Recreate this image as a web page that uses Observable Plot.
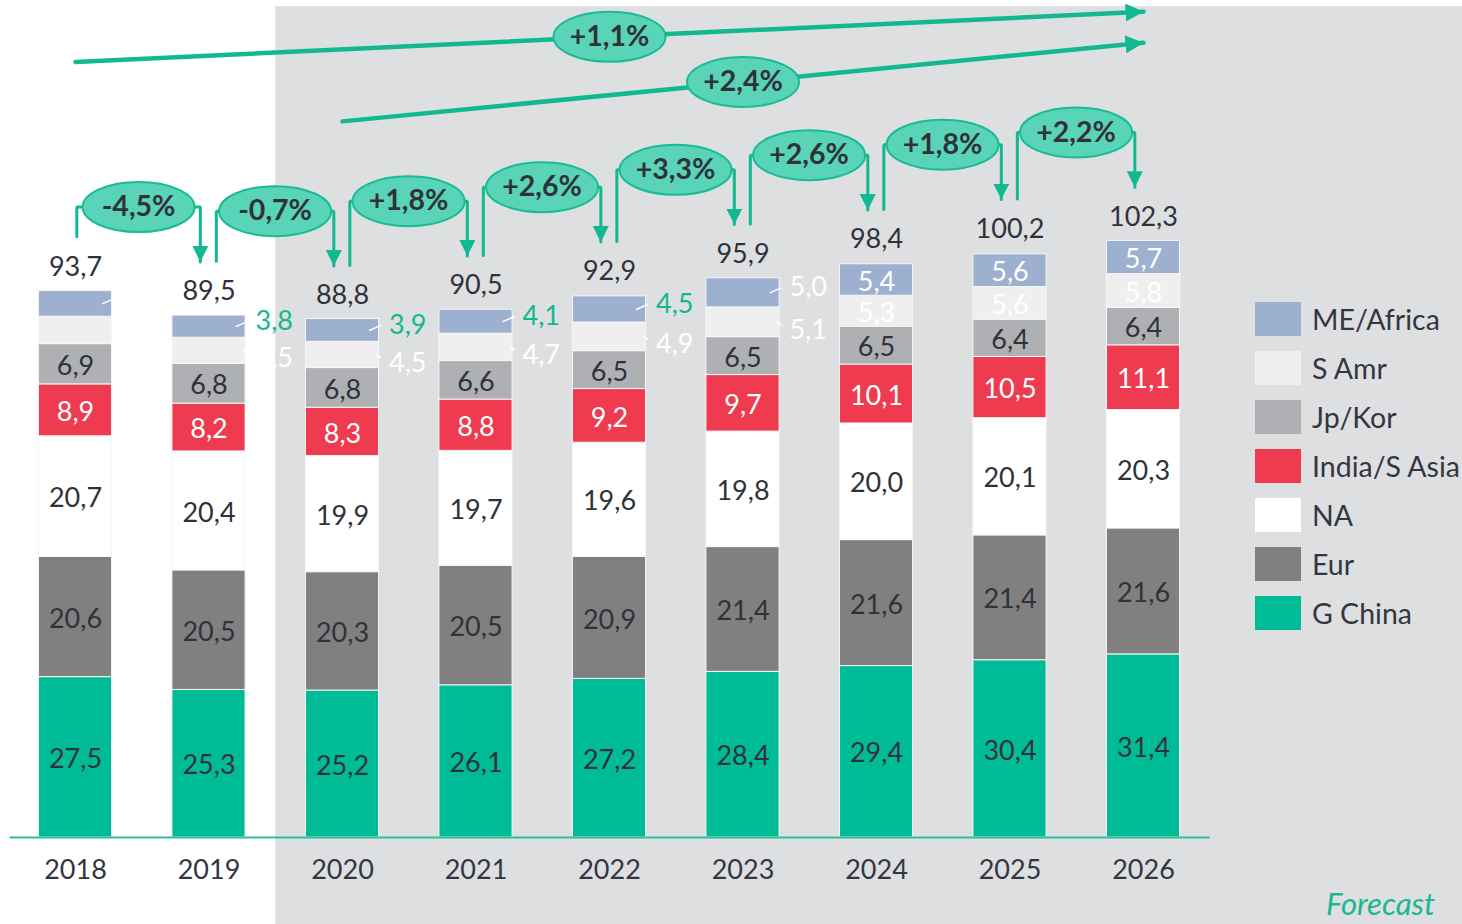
<!DOCTYPE html>
<html><head><meta charset="utf-8">
<script src="https://cdn.jsdelivr.net/npm/d3@7"></script>
<script src="https://cdn.jsdelivr.net/npm/@observablehq/plot@0.6"></script>
<style>
html,body{margin:0;padding:0;background:#fff;overflow:hidden}
#wrap{position:relative;width:1462px;height:924px;overflow:hidden;font-family:Lato,sans-serif}
#legend{position:absolute;left:1255px;top:294px}
.row{display:flex;align-items:center;height:49px}
.sw{width:46px;height:34px;margin-right:11px;box-sizing:border-box}
.lab{font-size:28.5px;color:#333640;white-space:nowrap}
#forecast{position:absolute;right:27px;top:884px;font-size:31px;font-style:italic;color:#17b890;line-height:38px}
</style></head>
<body><div id="wrap"><div id="legend"></div><div id="forecast">Forecast</div></div>
<script>
// ---- data ----
const years = [2018, 2019, 2020, 2021, 2022, 2023, 2024, 2025, 2026];
const regions = ["G China", "Eur", "NA", "India/S Asia", "Jp/Kor", "S Amr", "ME/Africa"];
const colors = ["#00bc96", "#808080", "#ffffff", "#ee3b50", "#afb0b3", "#efefef", "#9eb0cf"];
const gChina   = [27.5, 25.3, 25.2, 26.1, 27.2, 28.4, 29.4, 30.4, 31.4];
const eur      = [20.6, 20.5, 20.3, 20.5, 20.9, 21.4, 21.6, 21.4, 21.6];
const na       = [20.7, 20.4, 19.9, 19.7, 19.6, 19.8, 20.0, 20.1, 20.3];
const india    = [8.9, 8.2, 8.3, 8.8, 9.2, 9.7, 10.1, 10.5, 11.1];
const jpKor    = [6.9, 6.8, 6.8, 6.6, 6.5, 6.5, 6.5, 6.4, 6.4];
const sAmr     = [4.7, 4.5, 4.5, 4.7, 4.9, 5.1, 5.3, 5.6, 5.8];
const meAfrica = [4.4, 3.8, 3.9, 4.1, 4.5, 5.0, 5.4, 5.6, 5.7];
const totals   = [93.7, 89.5, 88.8, 90.5, 92.9, 95.9, 98.4, 100.2, 102.3];
const yoyLabels = ["-4,5%", "-0,7%", "+1,8%", "+2,6%", "+3,3%", "+2,6%", "+1,8%", "+2,2%"];
const cagrFrom = [2018, 2020];
const cagrTo = [2026, 2026];
const cagrLabels = ["+1,1%", "+2,4%"];
const shadedFrom = 2020;

// ---- styling constants ----
const teal = "#12b990";
const dark = "#30323a";
const fmt = v => v.toFixed(1).replace(".", ",");
const half = 0.274;
const fs = 27;

const series = [gChina, eur, na, india, jpKor, sAmr, meAfrica];
const segs = [];
years.forEach((yr, i) => {
  let base = 0;
  regions.forEach((r, j) => {
    const v = series[j][i];
    segs.push({year: yr, i, region: r, value: v, y1: base, y2: base + v, mid: base + v / 2});
    base += v;
  });
});
const isOutside = d => (d.region === "S Amr" || d.region === "ME/Africa") && d.i <= 5;
function labelFill(d) {
  if (d.region === "India/S Asia" || d.region === "S Amr") return "white";
  if (d.region === "ME/Africa") return (d.i >= 1 && d.i <= 4) ? teal : "white";
  return dark;
}
const inside = segs.filter(d => !isOutside(d));
const outME = segs.filter(d => isOutside(d) && d.region === "ME/Africa");
const outSA = segs.filter(d => isOutside(d) && d.region === "S Amr");

const tot = years.map((y, i) => ({year: y, total: totals[i]}));

// brackets
const brackets = [], yoy = [];
for (let i = 0; i < years.length - 1; i++) {
  const xa = years[i] + (i === 0 ? 0.01 : 0.055), xb = years[i + 1] - 0.065, h = totals[i + 1] + 18.6;
  brackets.push({k: i, x: xa, y: totals[i] + 9.3}, {k: i, x: xa, y: h}, {k: i, x: xb, y: h}, {k: i, x: xb, y: totals[i + 1] + 9.2});
  yoy.push({x: (xa + xb) / 2, y: h, label: yoyLabels[i]});
}
// long arrows
const cagrOffsets = [39.3, 34];
const arrows = [], cagr = [];
cagrLabels.forEach((lab, k) => {
  const ia = years.indexOf(cagrFrom[k]), ib = years.indexOf(cagrTo[k]);
  const ya = totals[ia] + cagrOffsets[k], yb = totals[ib] + cagrOffsets[k];
  arrows.push({k, x: cagrFrom[k], y: ya}, {k, x: cagrTo[k], y: yb});
  cagr.push({x: (cagrFrom[k] + cagrTo[k]) / 2, y: (ya + yb) / 2, label: lab});
});

function makeTri(size) {
  return function (color) {
    const ns = "http://www.w3.org/2000/svg";
    const m = document.createElementNS(ns, "marker");
    m.setAttribute("viewBox", "-8 -8 16 16");
    m.setAttribute("markerWidth", size);
    m.setAttribute("markerHeight", size);
    m.setAttribute("markerUnits", "userSpaceOnUse");
    m.setAttribute("orient", "auto");
    m.setAttribute("refX", 8);
    m.setAttribute("refY", 0);
    const p = document.createElementNS(ns, "path");
    p.setAttribute("d", "M-8,-8L8,0L-8,8Z");
    p.setAttribute("fill", color);
    p.setAttribute("stroke", "none");
    m.appendChild(p);
    return m;
  };
}
const ellipse = {
  draw(ctx) {
    const rx = 56, ry = 25, k = 0.5523;
    ctx.moveTo(rx, 0);
    ctx.bezierCurveTo(rx, ry * k, rx * k, ry, 0, ry);
    ctx.bezierCurveTo(-rx * k, ry, -rx, ry * k, -rx, 0);
    ctx.bezierCurveTo(-rx, -ry * k, -rx * k, -ry, 0, -ry);
    ctx.bezierCurveTo(rx * k, -ry, rx, -ry * k, rx, 0);
    ctx.closePath();
  }
};

const chart = Plot.plot({
  width: 1462, height: 924,
  marginLeft: 75, marginRight: 319, marginTop: 6, marginBottom: 87,
  x: {domain: [years[0], years[years.length - 1]], axis: null},
  y: {domain: [0, 142.5], axis: null},
  color: {domain: regions, range: colors},
  style: {fontFamily: "Lato, sans-serif", background: "white", overflow: "hidden"},
  marks: [
    Plot.rect([0], {x1: shadedFrom - 0.5, x2: years[years.length - 1] + 2.5, y1: 142.5, y2: -20, fill: "#dedfe1"}),
    Plot.rect(segs, {x1: d => d.year - half, x2: d => d.year + half, y1: "y1", y2: "y2", fill: "region", stroke: "#f7f7f7", strokeWidth: 1}),
    Plot.ruleY([0], {x1: years[0] - 0.49, x2: years[years.length - 1] + 0.5, stroke: "#2bbf9a", strokeWidth: 2}),
    Plot.axisX({ticks: years, tickFormat: d => String(d), tickSize: 0, tickPadding: 22, fontSize: fs, color: "#333640"}),
    Plot.text(inside, {x: "year", y: "mid", dy: 2, text: d => fmt(d.value), fill: labelFill, fontSize: fs}),
    Plot.link(outME, {x1: d => d.year + 0.2, x2: d => d.year + 0.29, y1: "mid", y2: d => d.mid + 0.9, stroke: "white", strokeWidth: 1.5}),
    Plot.link(outSA, {x1: d => d.year + 0.255, x2: d => d.year + 0.29, y1: d => d.mid + 0.1, y2: d => d.mid - 0.5, stroke: "white", strokeWidth: 1.5}),
    Plot.text(outME, {x: d => d.year + half, y: "mid", dx: 10, dy: -5, textAnchor: "start", text: d => fmt(d.value), fill: labelFill, fontSize: fs}),
    Plot.text(outSA, {x: d => d.year + half, y: "mid", dx: 10, dy: 8, textAnchor: "start", text: d => fmt(d.value), fill: labelFill, fontSize: fs}),
    Plot.text(tot, {x: "year", y: "total", dy: -24, text: d => fmt(d.total), fill: dark, fontSize: fs}),
    Plot.line(brackets, {x: "x", y: "y", z: "k", stroke: teal, strokeWidth: 3, markerEnd: makeTri(16), strokeLinejoin: "miter"}),
    Plot.line(arrows, {x: "x", y: "y", z: "k", stroke: teal, strokeWidth: 4.5, markerEnd: makeTri(18)}),
    Plot.dot(yoy.concat(cagr), {x: "x", y: "y", symbol: ellipse, r: 10, fill: "#5ad4b8", stroke: "#18bc93", strokeWidth: 2}),
    Plot.text(yoy.concat(cagr), {x: "x", y: "y", text: "label", fill: dark, fontSize: 28.5, fontWeight: "bold"})
  ]
});
const wrap = document.getElementById("wrap");
wrap.insertBefore(chart, wrap.firstChild);

const legend = document.getElementById("legend");
regions.slice().reverse().forEach(r => {
  const c = colors[regions.indexOf(r)];
  const row = document.createElement("div");
  row.className = "row";
  const sw = document.createElement("div");
  sw.className = "sw";
  sw.style.background = c;
  const lab = document.createElement("div");
  lab.className = "lab";
  lab.textContent = r;
  row.appendChild(sw); row.appendChild(lab);
  legend.appendChild(row);
});
</script></body></html>
